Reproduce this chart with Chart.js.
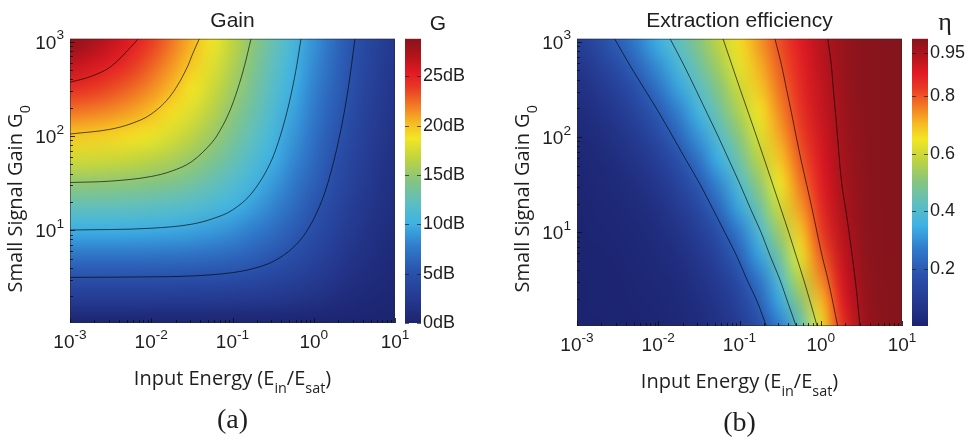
<!DOCTYPE html>
<html>
<head>
<meta charset="utf-8">
<script src="https://cdn.jsdelivr.net/npm/chart.js@4.4.0/dist/chart.umd.min.js"></script>
<style>
  body { margin: 0; background: #fff; width: 969px; height: 440px; overflow: hidden; position: relative; }
  .panel { position: absolute; top: 0; height: 440px; }
  #pa { left: 0; width: 484px; }
  #pb { left: 484px; width: 485px; }
</style>
</head>
<body>
<div class="panel" id="pa"><canvas id="gainChart" width="484" height="440"></canvas></div>
<div class="panel" id="pb"><canvas id="etaChart" width="485" height="440"></canvas></div>
<script>
// grid of the maps (at 1/4 decade steps)
const inputEnergy = [0.001, 0.00178, 0.00316, 0.00562, 0.01, 0.0178, 0.0316, 0.0562, 0.1, 0.178, 0.316, 0.562, 1, 1.78, 3.16, 5.62, 10];
const smallSignalGain = [1, 1.78, 3.16, 5.62, 10, 17.8, 31.6, 56.2, 100, 178, 316, 562, 1000];

// gain in dB, one row per small signal gain (bottom row first)
const gainDb = [
  [0, 0, 0, 0, 0, 0, 0, 0, 0, 0, 0, 0, 0, 0, 0, 0, 0],
  [2.50, 2.50, 2.49, 2.49, 2.48, 2.47, 2.45, 2.41, 2.34, 2.23, 2.06, 1.80, 1.46, 1.07, 0.70, 0.42, 0.24],
  [5.00, 5.00, 4.98, 4.97, 4.95, 4.92, 4.86, 4.75, 4.58, 4.31, 3.91, 3.36, 2.70, 1.98, 1.32, 0.81, 0.47],
  [7.49, 7.49, 7.47, 7.44, 7.40, 7.33, 7.20, 7.00, 6.67, 6.19, 5.53, 4.69, 3.74, 2.76, 1.86, 1.16, 0.69],
  [9.98, 9.97, 9.94, 9.89, 9.81, 9.68, 9.45, 9.09, 8.57, 7.84, 6.91, 5.82, 4.62, 3.43, 2.34, 1.49, 0.90],
  [12.46, 12.44, 12.39, 12.30, 12.16, 11.92, 11.55, 11.00, 10.23, 9.25, 8.07, 6.76, 5.38, 4.02, 2.78, 1.79, 1.10],
  [14.93, 14.89, 14.80, 14.65, 14.41, 14.03, 13.46, 12.67, 11.66, 10.44, 9.06, 7.57, 6.04, 4.54, 3.18, 2.08, 1.29],
  [17.38, 17.30, 17.15, 16.90, 16.51, 15.94, 15.14, 14.11, 12.86, 11.44, 9.90, 8.27, 6.61, 5.00, 3.54, 2.34, 1.47],
  [19.79, 19.65, 19.40, 19.01, 18.42, 17.62, 16.58, 15.32, 13.88, 12.30, 10.61, 8.87, 7.12, 5.42, 3.88, 2.60, 1.65],
  [22.14, 21.90, 21.50, 20.92, 20.11, 19.06, 17.80, 16.34, 14.74, 13.03, 11.24, 9.41, 7.58, 5.81, 4.19, 2.83, 1.81],
  [24.39, 24.00, 23.41, 22.60, 21.55, 20.28, 18.82, 17.21, 15.48, 13.67, 11.79, 9.89, 7.99, 6.16, 4.48, 3.06, 1.97],
  [26.50, 25.91, 25.10, 24.05, 22.78, 21.31, 19.70, 17.96, 16.12, 14.23, 12.28, 10.32, 8.37, 6.49, 4.75, 3.27, 2.13],
  [28.41, 27.60, 26.54, 25.27, 23.81, 22.19, 20.44, 18.60, 16.69, 14.72, 12.72, 10.71, 8.72, 6.79, 5.01, 3.48, 2.28]
];

// extraction efficiency, same grid
const extractionEff = [
  [0.0010, 0.0018, 0.0032, 0.0056, 0.0100, 0.0176, 0.0311, 0.0547, 0.0952, 0.1629, 0.2711, 0.4301, 0.6321, 0.8311, 0.9577, 0.9964, 1.0000],
  [0.0014, 0.0024, 0.0043, 0.0076, 0.0134, 0.0237, 0.0416, 0.0724, 0.1241, 0.2074, 0.3326, 0.5018, 0.6951, 0.8666, 0.9676, 0.9959, 1.0000],
  [0.0019, 0.0033, 0.0059, 0.0105, 0.0185, 0.0325, 0.0566, 0.0971, 0.1625, 0.2621, 0.4007, 0.5712, 0.7483, 0.8934, 0.9744, 0.9971, 0.9999],
  [0.0027, 0.0047, 0.0084, 0.0148, 0.0260, 0.0454, 0.0779, 0.1305, 0.2111, 0.3251, 0.4705, 0.6340, 0.7914, 0.9134, 0.9795, 0.9978, 1.0000],
  [0.0039, 0.0069, 0.0122, 0.0214, 0.0372, 0.0639, 0.1073, 0.1738, 0.2687, 0.3920, 0.5366, 0.6877, 0.8254, 0.9284, 0.9831, 0.9982, 1.0000],
  [0.0058, 0.0102, 0.0179, 0.0313, 0.0537, 0.0900, 0.1460, 0.2262, 0.3316, 0.4578, 0.5955, 0.7319, 0.8518, 0.9396, 0.9858, 0.9985, 1.0000],
  [0.0087, 0.0154, 0.0267, 0.0459, 0.0770, 0.1250, 0.1938, 0.2848, 0.3951, 0.5182, 0.6457, 0.7676, 0.8725, 0.9483, 0.9879, 0.9987, 1.0000],
  [0.0133, 0.0233, 0.0399, 0.0670, 0.1087, 0.1687, 0.2483, 0.3453, 0.4550, 0.5714, 0.6877, 0.7964, 0.8887, 0.9550, 0.9894, 0.9989, 1.0000],
  [0.0205, 0.0352, 0.0591, 0.0959, 0.1489, 0.2193, 0.3054, 0.4035, 0.5090, 0.6169, 0.7223, 0.8197, 0.9017, 0.9603, 0.9907, 0.9990, 1.0000],
  [0.0314, 0.0528, 0.0856, 0.1330, 0.1959, 0.2731, 0.3614, 0.4569, 0.5560, 0.6552, 0.7510, 0.8386, 0.9121, 0.9645, 0.9917, 0.9991, 1.0000],
  [0.0476, 0.0773, 0.1200, 0.1769, 0.2467, 0.3267, 0.4136, 0.5044, 0.5965, 0.6876, 0.7747, 0.8542, 0.9206, 0.9679, 0.9925, 0.9992, 1.0000],
  [0.0703, 0.1092, 0.1610, 0.2247, 0.2977, 0.3772, 0.4606, 0.5458, 0.6312, 0.7149, 0.7946, 0.8671, 0.9277, 0.9708, 0.9932, 0.9993, 1.0000],
  [0.1002, 0.1478, 0.2061, 0.2732, 0.3463, 0.4232, 0.5022, 0.5818, 0.6609, 0.7381, 0.8115, 0.8781, 0.9337, 0.9732, 0.9937, 0.9993, 1.0000]
];

// contour lines [E_in/E_sat, G0]
const gain5dB = [[0.001, 3.16], [0.01, 3.20], [0.0316, 3.27], [0.1, 3.55], [0.178, 3.91], [0.316, 4.66], [0.562, 6.59], [0.834, 10], [1.175, 17.8], [1.49, 31.6], [2.08, 100], [2.65, 316], [3.22, 1075]];
const gain10dB = [[0.001, 10.05], [0.01, 10.5], [0.0316, 11.6], [0.0562, 13.2], [0.1, 16.4], [0.178, 25.6], [0.305, 56.2], [0.387, 100], [0.467, 178], [0.544, 316], [0.618, 562], [0.697, 1075]];
const gain15dB = [[0.001, 32.1], [0.00316, 33.2], [0.01, 37.2], [0.0178, 42.4], [0.0316, 53.6], [0.0562, 85.9], [0.064, 100], [0.091, 178], [0.116, 316], [0.141, 562], [0.169, 1075]];
const gain20dB = [[0.001, 105], [0.00316, 118], [0.00562, 135], [0.01, 171], [0.0178, 277], [0.0284, 562], [0.0316, 710], [0.039, 1075]];
const gain25dB = [[0.001, 372], [0.00178, 427], [0.00316, 543], [0.00562, 881], [0.0069, 1075]];

const eta020 = [[0.0029, 1075], [0.0045, 562], [0.00681, 316], [0.0103, 178], [0.0152, 100], [0.0223, 56.2], [0.0329, 31.6], [0.0466, 17.8], [0.0659, 10], [0.0925, 5.62], [0.124, 3.16], [0.169, 1.78], [0.217, 1]];
const eta040 = [[0.014, 1075], [0.0208, 562], [0.0289, 316], [0.0399, 178], [0.0551, 100], [0.075, 56.2], [0.102, 31.6], [0.136, 17.8], [0.184, 10], [0.239, 5.62], [0.315, 3.16], [0.398, 1.78], [0.505, 1]];
const eta060 = [[0.0627, 1075], [0.0811, 562], [0.102, 316], [0.129, 178], [0.163, 100], [0.205, 56.2], [0.257, 31.6], [0.322, 17.8], [0.403, 10], [0.499, 5.62], [0.618, 3.16], [0.753, 1.78], [0.912, 1]];
const eta080 = [[0.273, 1075], [0.33, 562], [0.38, 316], [0.437, 178], [0.5, 100], [0.575, 56.2], [0.671, 31.6], [0.78, 17.8], [0.9, 10], [1.04, 5.62], [1.23, 3.16], [1.42, 1.78], [1.63, 1]];
const eta095 = [[1.22, 1075], [1.35, 562], [1.43, 316], [1.52, 178], [1.61, 100], [1.7, 56.2], [1.82, 31.6], [2.02, 17.8], [2.23, 10], [2.44, 5.62], [2.66, 3.16], [2.86, 1.78], [3.05, 1]];

// ticks
const xTicks = [0.001, 0.01, 0.1, 1, 10];
const xTickExp = ['-3', '-2', '-1', '0', '1'];
const yTicks = [10, 100, 1000];
const yTickExp = ['1', '2', '3'];
const gainBarTicks = [0, 5, 10, 15, 20, 25];
const etaBarTicks = [0.2, 0.4, 0.6, 0.8, 0.95];

// jet-like colour map
const cmap = [
  [0.00, 28, 36, 112], [0.08, 36, 56, 142], [0.18, 42, 82, 172], [0.27, 48, 124, 204],
  [0.35, 62, 178, 228], [0.42, 92, 190, 196], [0.50, 132, 196, 130], [0.58, 192, 212, 62],
  [0.65, 242, 230, 36], [0.70, 246, 190, 36], [0.76, 242, 128, 36], [0.83, 232, 56, 36],
  [0.88, 226, 26, 36], [0.94, 178, 20, 28], [1.00, 134, 20, 28]
];

const sans = '"Liberation Sans", Arial, sans-serif';
const humanist = '"Open Sans", sans-serif';
const serif = '"Liberation Serif", serif';
const ink = '#1e1e1e';

function colorAt(f) {
  f = Math.max(0, Math.min(1, f));
  for (let k = 1; k < cmap.length; k++) {
    if (f <= cmap[k][0]) {
      const a = cmap[k - 1], b = cmap[k];
      const t = (f - a[0]) / (b[0] - a[0]);
      return [a[1] + (b[1] - a[1]) * t, a[2] + (b[2] - a[2]) * t, a[3] + (b[3] - a[3]) * t];
    }
  }
  return cmap[cmap.length - 1].slice(1);
}

// text with sub / superscripts; parts = [[text, 'sub'|'sup'|undefined], ...]
function richWidth(ctx, parts, size, family) {
  let w = 0;
  parts.forEach(([t, k]) => {
    ctx.font = (k ? size * 0.72 : size) + 'px ' + family;
    w += ctx.measureText(t).width;
  });
  return w;
}
function drawRich(ctx, parts, x, y, size, family) {
  let cx = x;
  parts.forEach(([t, k]) => {
    ctx.font = (k ? size * 0.72 : size) + 'px ' + family;
    const dy = k === 'sub' ? size * 0.4 : k === 'sup' ? -size * 0.5 : 0;
    ctx.fillText(t, cx, y + dy);
    cx += ctx.measureText(t).width;
  });
}

const heatPlugin = {
  id: 'heat',
  beforeDatasetsDraw(chart, args, opts) {
    const { ctx, chartArea: a, scales: { x, y } } = chart;
    const nx = inputEnergy.length, ny = smallSignalGain.length;
    const off = document.createElement('canvas');
    off.width = nx; off.height = ny;
    const octx = off.getContext('2d');
    const img = octx.createImageData(nx, ny);
    for (let j = 0; j < ny; j++) {
      for (let i = 0; i < nx; i++) {
        const c = colorAt((opts.grid[j][i] - opts.min) / (opts.max - opts.min));
        const p = ((ny - 1 - j) * nx + i) * 4;
        img.data[p] = c[0]; img.data[p + 1] = c[1]; img.data[p + 2] = c[2]; img.data[p + 3] = 255;
      }
    }
    octx.putImageData(img, 0, 0);
    const lx0 = Math.log10(inputEnergy[0]), lx1 = Math.log10(inputEnergy[nx - 1]);
    const ly0 = Math.log10(smallSignalGain[0]), ly1 = Math.log10(smallSignalGain[ny - 1]);
    const hx = (lx1 - lx0) / (nx - 1) / 2, hy = (ly1 - ly0) / (ny - 1) / 2;
    const left = x.getPixelForValue(Math.pow(10, lx0 - hx));
    const right = x.getPixelForValue(Math.pow(10, lx1 + hx));
    const top = y.getPixelForValue(Math.pow(10, ly1 + hy));
    const bottom = y.getPixelForValue(Math.pow(10, ly0 - hy));
    ctx.save();
    ctx.beginPath();
    ctx.rect(a.left, a.top, a.right - a.left, a.bottom - a.top);
    ctx.clip();
    ctx.imageSmoothingEnabled = true;
    ctx.imageSmoothingQuality = 'high';
    ctx.drawImage(off, left, top, right - left, bottom - top);
    ctx.restore();
  }
};

const decorPlugin = {
  id: 'decor',
  afterDraw(chart, args, o) {
    const { ctx, chartArea: a, scales: { x, y, cb } } = chart;
    ctx.save();
    // frame
    ctx.strokeStyle = 'rgba(40,40,40,0.55)';
    ctx.lineWidth = 1;
    ctx.strokeRect(a.left + 0.5, a.top + 0.5, a.right - a.left - 1, a.bottom - a.top - 1);

    // inward ticks, major and minor
    ctx.strokeStyle = 'rgba(15,15,15,0.85)';
    ctx.beginPath();
    for (let k = -3; k <= 1; k++) {
      for (let d = 1; d <= 9; d++) {
        const v = d * Math.pow(10, k);
        if (v > 10.0001) continue;
        const px = Math.round(x.getPixelForValue(v)) + 0.5;
        const len = d === 1 ? 5 : 3;
        ctx.moveTo(px, a.bottom); ctx.lineTo(px, a.bottom - len);
      }
    }
    for (let k = 0; k <= 3; k++) {
      for (let d = 1; d <= 9; d++) {
        const v = d * Math.pow(10, k);
        if (v < y.min || v > y.max) continue;
        const py = Math.round(y.getPixelForValue(v)) + 0.5;
        const len = d === 1 ? 5 : 3;
        ctx.moveTo(a.left, py); ctx.lineTo(a.left + len, py);
      }
    }
    ctx.stroke();

    // tick labels
    ctx.fillStyle = ink;
    ctx.textAlign = 'left';
    ctx.textBaseline = 'alphabetic';
    xTicks.forEach((v, i) => {
      const parts = [['10'], [xTickExp[i], 'sup']];
      const w = richWidth(ctx, parts, 19, sans);
      drawRich(ctx, parts, x.getPixelForValue(v) - w / 2, a.bottom + 25, 19, sans);
    });
    yTicks.forEach((v, i) => {
      const parts = [['10'], [yTickExp[i], 'sup']];
      const w = richWidth(ctx, parts, 19, sans);
      drawRich(ctx, parts, a.left - 6 - w, y.getPixelForValue(v) + 7, 19, sans);
    });

    // colour bar
    const bx = a.right + 10, bw = 16;
    const yTop = cb.getPixelForValue(cb.max), yBot = cb.getPixelForValue(cb.min);
    const g = ctx.createLinearGradient(0, yBot, 0, yTop);
    cmap.forEach(s => g.addColorStop(s[0], 'rgb(' + s[1] + ',' + s[2] + ',' + s[3] + ')'));
    ctx.fillStyle = g;
    ctx.fillRect(bx, yTop, bw, yBot - yTop);
    ctx.strokeStyle = 'rgba(30,30,30,0.7)';
    ctx.beginPath();
    o.barTicks.forEach(v => {
      const py = Math.round(cb.getPixelForValue(v)) + 0.5;
      ctx.moveTo(bx, py); ctx.lineTo(bx + 4, py);
      ctx.moveTo(bx + bw - 4, py); ctx.lineTo(bx + bw, py);
    });
    ctx.stroke();

    // titles
    ctx.fillStyle = ink;
    ctx.textAlign = 'center';
    ctx.font = '21px ' + sans;
    ctx.fillText(o.title, (a.left + a.right) / 2, a.top - 12);
    ctx.font = o.barLabelFont;
    ctx.fillText(o.barLabel, bx + bw / 2 + 25, a.top - 9);

    // axis titles
    ctx.textAlign = 'left';
    const xt = [['Input Energy (E'], ['in', 'sub'], ['/E'], ['sat', 'sub'], [')']];
    const xw = richWidth(ctx, xt, 20, humanist);
    drawRich(ctx, xt, (a.left + a.right) / 2 - xw / 2, a.bottom + 62, 20, humanist);

    const yt = [['Small Signal Gain G'], ['0', 'sub']];
    const yw = richWidth(ctx, yt, 20, humanist);
    ctx.save();
    ctx.translate(a.left - 48, a.top + 160);
    ctx.rotate(-Math.PI / 2);
    drawRich(ctx, yt, -yw / 2, 0, 20, humanist);
    ctx.restore();

    // caption
    ctx.textAlign = 'center';
    ctx.font = '28px ' + serif;
    ctx.fillText(o.caption, (a.left + a.right) / 2, a.bottom + 105);
    ctx.restore();
  }
};

function contourSet(points) {
  return {
    data: points.map(p => ({ x: p[0], y: p[1] })),
    showLine: true,
    borderColor: 'rgba(0,0,0,0.8)',
    borderWidth: 0.8,
    pointRadius: 0,
    cubicInterpolationMode: 'monotone'
  };
}

function makeMap(canvasId, cfg) {
  return new Chart(document.getElementById(canvasId), {
    type: 'scatter',
    data: { datasets: cfg.contours.map(contourSet) },
    plugins: [heatPlugin, decorPlugin],
    options: {
      responsive: false,
      animation: false,
      events: [],
      layout: { padding: { top: cfg.top, left: 0, right: 0, bottom: 0 } },
      scales: {
        x: {
          type: 'logarithmic', position: 'bottom', min: 0.001, max: 10,
          ticks: { display: false }, grid: { display: false, drawTicks: false }, border: { display: false },
          afterFit: s => { s.height = cfg.xHeight; }
        },
        y: {
          type: 'logarithmic', position: 'left', min: 1.037, max: 1075,
          ticks: { display: false }, grid: { display: false, drawTicks: false }, border: { display: false },
          afterFit: s => { s.width = cfg.yWidth; }
        },
        cb: {
          type: 'linear', position: 'right', min: cfg.barMin, max: cfg.barMax,
          grid: { display: false, drawTicks: false }, border: { display: false },
          afterBuildTicks: s => { s.ticks = cfg.barTicks.map(v => ({ value: v })); },
          ticks: {
            padding: cfg.barPad, color: ink, autoSkip: false,
            font: { family: sans, size: 18 },
            callback: cfg.barFormat
          },
          afterFit: s => { s.width = cfg.barWidth; }
        }
      },
      plugins: {
        legend: { display: false },
        tooltip: { enabled: false },
        heat: { grid: cfg.grid, min: cfg.barMin, max: cfg.barMax },
        decor: {
          title: cfg.title, barLabel: cfg.barLabel, barLabelFont: cfg.barLabelFont,
          caption: cfg.caption, barTicks: cfg.barTicks
        }
      }
    }
  });
}

makeMap('gainChart', {
  contours: [gain5dB, gain10dB, gain15dB, gain20dB, gain25dB],
  grid: gainDb, barMin: 0, barMax: 28.8, barTicks: gainBarTicks,
  barFormat: v => v + 'dB', barPad: 28,
  top: 35, xHeight: 117, yWidth: 70, barWidth: 89,
  title: 'Gain', barLabel: 'G', barLabelFont: '21px ' + sans, caption: '(a)'
});

makeMap('etaChart', {
  contours: [eta020, eta040, eta060, eta080, eta095],
  grid: extractionEff, barMin: 0, barMax: 1, barTicks: etaBarTicks,
  barFormat: v => String(v), barPad: 28,
  top: 38, xHeight: 114, yWidth: 93, barWidth: 67,
  title: 'Extraction efficiency', barLabel: 'η', barLabelFont: '26px ' + serif, caption: '(b)'
});
</script>
</body>
</html>
